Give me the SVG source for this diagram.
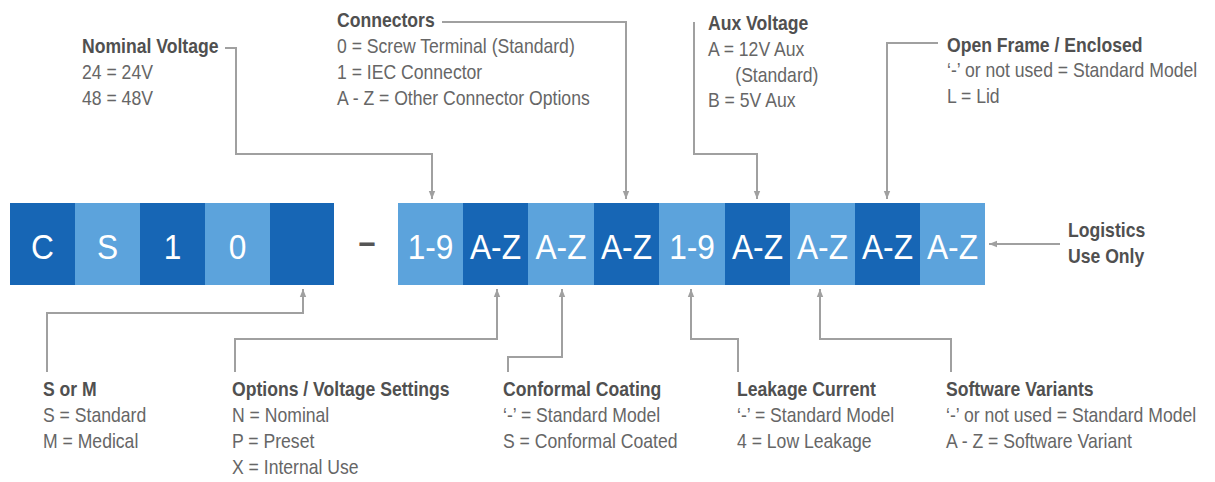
<svg xmlns="http://www.w3.org/2000/svg" width="1215" height="482" viewBox="0 0 1215 482">
<style>
.dk{fill:#1766b5}
.lt{fill:#5ca3dc}
.bx{font-family:"Liberation Sans",Arial,sans-serif;font-size:36px;fill:#ffffff;text-anchor:middle}
.h{font-family:"Liberation Sans",Arial,sans-serif;font-size:20px;font-weight:bold;fill:#505050}
.b{font-family:"Liberation Sans",Arial,sans-serif;font-size:20px;fill:#666666}
.c{fill:none;stroke:#a0a0a0;stroke-width:2}
</style>
<defs>
<marker id="ah" viewBox="0 0 10 10" refX="10" refY="5" markerWidth="8" markerHeight="8" markerUnits="userSpaceOnUse" orient="auto">
<path d="M0,1 L10,5 L0,9 z" fill="#a0a0a0"/>
</marker>
</defs>
<rect width="1215" height="482" fill="#ffffff"/>

<g id="code-block-1">
<rect class="dk" x="10" y="203" width="65" height="82"/>
<rect class="lt" x="75" y="203" width="65" height="82"/>
<rect class="dk" x="140" y="203" width="65" height="82"/>
<rect class="lt" x="205" y="203" width="65" height="82"/>
<rect class="dk" x="270" y="203" width="64" height="82"/>
<text class="bx" transform="translate(42.5,259) scale(0.88,1)">C</text>
<text class="bx" transform="translate(107.5,259) scale(0.88,1)">S</text>
<text class="bx" transform="translate(172.5,259) scale(0.88,1)">1</text>
<text class="bx" transform="translate(237.5,259) scale(0.88,1)">0</text>
</g>

<g id="separator">
<text font-family="Liberation Sans, Arial, sans-serif" font-size="36" font-weight="bold" fill="#555555" text-anchor="middle" transform="translate(367,254) scale(0.85,1)">–</text>
</g>

<g id="code-block-2">
<rect class="lt" x="398" y="203" width="65" height="82"/>
<rect class="dk" x="463" y="203" width="65" height="82"/>
<rect class="lt" x="528" y="203" width="66" height="82"/>
<rect class="dk" x="594" y="203" width="65" height="82"/>
<rect class="lt" x="659" y="203" width="66" height="82"/>
<rect class="dk" x="725" y="203" width="65" height="82"/>
<rect class="lt" x="790" y="203" width="65" height="82"/>
<rect class="dk" x="855" y="203" width="65" height="82"/>
<rect class="lt" x="920" y="203" width="65" height="82"/>
<text class="bx" transform="translate(430.5,259) scale(0.88,1)">1-9</text>
<text class="bx" transform="translate(495.5,259) scale(0.88,1)">A-Z</text>
<text class="bx" transform="translate(561,259) scale(0.88,1)">A-Z</text>
<text class="bx" transform="translate(626.5,259) scale(0.88,1)">A-Z</text>
<text class="bx" transform="translate(692,259) scale(0.88,1)">1-9</text>
<text class="bx" transform="translate(757.5,259) scale(0.88,1)">A-Z</text>
<text class="bx" transform="translate(822.5,259) scale(0.88,1)">A-Z</text>
<text class="bx" transform="translate(887.5,259) scale(0.88,1)">A-Z</text>
<text class="bx" transform="translate(952.5,259) scale(0.88,1)">A-Z</text>
</g>

<g id="connectors">
<path class="c" d="M225,48 H236 V154 H432 V199" marker-end="url(#ah)"/>
<path class="c" d="M442,22 H626 V199" marker-end="url(#ah)"/>
<path class="c" d="M694,22 V154 H757 V199" marker-end="url(#ah)"/>
<path class="c" d="M938,43 H887 V199" marker-end="url(#ah)"/>
<path class="c" d="M1060,244 H989" marker-end="url(#ah)"/>
<path class="c" d="M47,372 V313 H303 V289" marker-end="url(#ah)"/>
<path class="c" d="M235,372 V339 H497 V289" marker-end="url(#ah)"/>
<path class="c" d="M508,372 V357 H562 V289" marker-end="url(#ah)"/>
<path class="c" d="M738,372 V339 H691 V289" marker-end="url(#ah)"/>
<path class="c" d="M951,372 V339 H820 V289" marker-end="url(#ah)"/>
</g>

<g id="nominal-voltage" transform="translate(82,0) scale(0.88,1)">
<text class="h" x="0" y="53">Nominal Voltage</text>
<text class="b" x="0" y="79">24 = 24V</text>
<text class="b" x="0" y="105">48 = 48V</text>
</g>

<g id="connectors-label" transform="translate(337,0) scale(0.88,1)">
<text class="h" x="0" y="27">Connectors</text>
<text class="b" x="0" y="53">0 = Screw Terminal (Standard)</text>
<text class="b" x="0" y="79">1 = IEC Connector</text>
<text class="b" x="0" y="105">A - Z = Other Connector Options</text>
</g>

<g id="aux-voltage" transform="translate(708,0) scale(0.88,1)">
<text class="h" x="0" y="30">Aux Voltage</text>
<text class="b" x="0" y="56">A = 12V Aux</text>
<text class="b" x="31" y="82">(Standard)</text>
<text class="b" x="0" y="107">B = 5V Aux</text>
</g>

<g id="open-frame" transform="translate(947,0) scale(0.88,1)">
<text class="h" x="0" y="52">Open Frame / Enclosed</text>
<text class="b" x="0" y="77">‘-’ or not used = Standard Model</text>
<text class="b" x="0" y="103">L = Lid</text>
</g>

<g id="logistics" transform="translate(1068,0) scale(0.88,1)">
<text class="h" x="0" y="237">Logistics</text>
<text class="h" x="0" y="263">Use Only</text>
</g>

<g id="s-or-m" transform="translate(43,0) scale(0.88,1)">
<text class="h" x="0" y="396">S or M</text>
<text class="b" x="0" y="422">S = Standard</text>
<text class="b" x="0" y="448">M = Medical</text>
</g>

<g id="options" transform="translate(232,0) scale(0.88,1)">
<text class="h" x="0" y="396">Options / Voltage Settings</text>
<text class="b" x="0" y="422">N = Nominal</text>
<text class="b" x="0" y="448">P = Preset</text>
<text class="b" x="0" y="474">X = Internal Use</text>
</g>

<g id="conformal" transform="translate(503,0) scale(0.88,1)">
<text class="h" x="0" y="396">Conformal Coating</text>
<text class="b" x="0" y="422">‘-’ = Standard Model</text>
<text class="b" x="0" y="448">S = Conformal Coated</text>
</g>

<g id="leakage" transform="translate(737,0) scale(0.88,1)">
<text class="h" x="0" y="396">Leakage Current</text>
<text class="b" x="0" y="422">‘-’ = Standard Model</text>
<text class="b" x="0" y="448">4 = Low Leakage</text>
</g>

<g id="software" transform="translate(946,0) scale(0.88,1)">
<text class="h" x="0" y="396">Software Variants</text>
<text class="b" x="0" y="422">‘-’ or not used = Standard Model</text>
<text class="b" x="0" y="448">A - Z = Software Variant</text>
</g>
</svg>
